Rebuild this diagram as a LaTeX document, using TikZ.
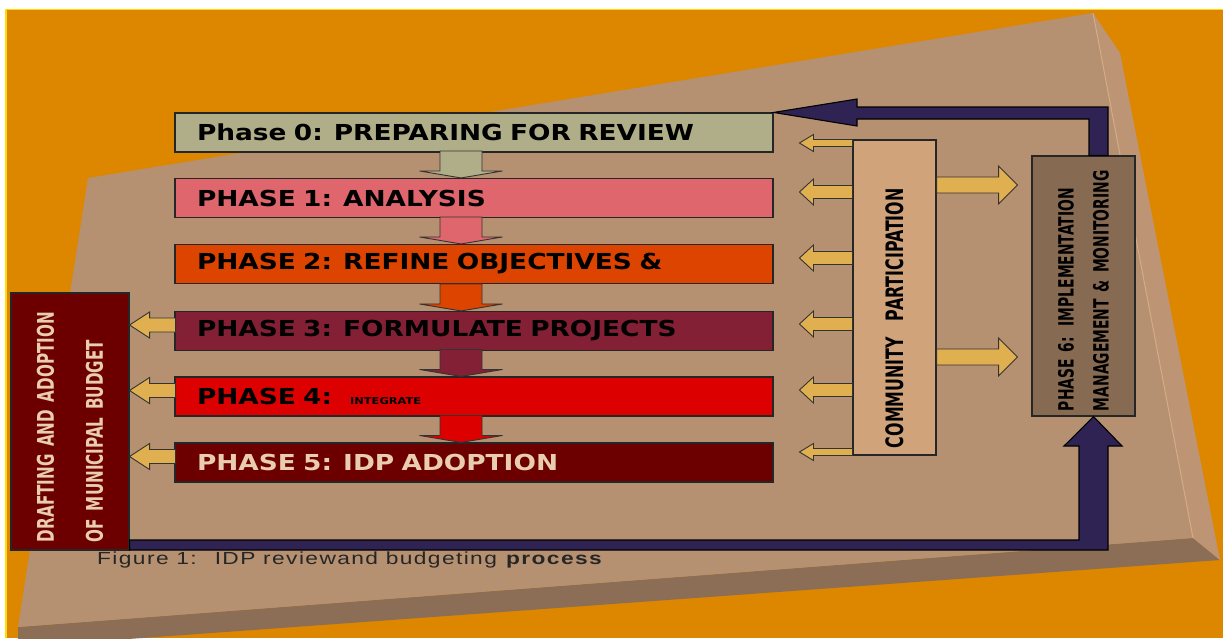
\documentclass[tikz,border=0pt]{standalone}
\usepackage{fontspec}
\usetikzlibrary{calc}

\newfontfamily\phasefont{DejaVu Sans}[FakeStretch=1.2]
\newfontfamily\sidefont{DejaVu Sans}[FakeStretch=0.66]
\newfontfamily\capfont{Liberation Sans}[FakeStretch=1.3,LetterSpace=8]

\definecolor{bgorange}{HTML}{DD8600}
\definecolor{slabtop}{HTML}{B69171}
\definecolor{slabside}{HTML}{BD9574}
\definecolor{slabbottom}{HTML}{8B6E55}
\definecolor{slabedge}{HTML}{D4AC88}
\definecolor{phzero}{HTML}{B0AE88}
\definecolor{phone}{HTML}{DF666C}
\definecolor{phtwo}{HTML}{DD4400}
\definecolor{phthree}{HTML}{842035}
\definecolor{phfour}{HTML}{DD0000}
\definecolor{phfive}{HTML}{6C0000}
\definecolor{commfill}{HTML}{D0A37A}
\definecolor{phsix}{HTML}{876A52}
\definecolor{loopnavy}{HTML}{2E2352}
\definecolor{arrowyellow}{HTML}{E0B050}
\definecolor{lighttext}{HTML}{E9CDAE}

\tikzstyle{phase} = [rectangle, draw=black!85, line width=1.1pt, text width=554pt, inner xsep=22pt, inner ysep=0pt, minimum height=39pt, align=left, font=\phasefont\bfseries\fontsize{22}{22}\selectfont]
\tikzstyle{sidebox} = [rectangle, draw=black!85, line width=1.1pt, rotate=90, align=left, inner ysep=0pt]
\tikzstyle{block} = [draw=black!80, line width=0.9pt, line join=miter]
\tikzstyle{loop} = [draw=black, line width=1.1pt, fill=loopnavy]

% fill, tip, direction, length, shaft half, head half, head length
\newcommand{\blockarrow}[7]{%
  \draw[block, fill=#1, shift={#2}, rotate=#3] (0,0) -- (-#7,#6) -- (-#7,#5) -- (-#4,#5) -- (-#4,-#5) -- (-#7,-#5) -- (-#7,-#6) -- cycle;}

\begin{document}
\begin{tikzpicture}[x=1pt, y=-1pt]
    \useasboundingbox (0,0) rectangle (1223,638);
    \clip (0,0) rectangle (1223,638);

    % backdrop and slab
    \fill[bgorange] (6,9) rectangle (1223,638);
    \draw[yellow!80!orange, line width=1.2pt] (6,638) -- (6,9.5) -- (1223,9.5);
    \fill[slabbottom] (18,627) -- (1193,538) -- (1220,560) -- (18,647) -- cycle;
    \fill[slabside] (1093,13) -- (1120,53) -- (1220,560) -- (1193,538) -- cycle;
    \fill[slabtop] (88,178) -- (1093,13) -- (1193,538) -- (18,627) -- cycle;
    \draw[slabedge, line width=1pt] (1093,13) -- (1193,538);

    % phases
    \node (p0) [phase, fill=phzero] at (474,132.5) {Phase 0: PREPARING FOR REVIEW};
    \node (p1) [phase, fill=phone] at (474,198) {PHASE 1: ANALYSIS};
    \node (p2) [phase, fill=phtwo] at (474,264) {PHASE 2: REFINE OBJECTIVES \&};
    \node (p3) [phase, fill=phthree] at (474,331) {PHASE 3: FORMULATE PROJECTS};
    \node (p4) [phase, fill=phfour] at (474,396.5) {\raisebox{-6pt}{PHASE 4:\hspace{18pt}{\fontsize{9.5}{9.5}\selectfont INTEGRATE}}};
    \node (p5) [phase, fill=phfive, text=lighttext] at (474,462.5) {PHASE 5: IDP ADOPTION};

    % side boxes
    \node (budget) [sidebox, fill=phfive, text=lighttext, minimum width=257pt, minimum height=118pt, inner xsep=8pt, text width=241pt, font=\sidefont\bfseries\fontsize{23}{49}\selectfont] at (70,421.5) {DRAFTING AND ADOPTION\\OF MUNICIPAL BUDGET};
    \node (comm) [sidebox, fill=commfill, minimum width=315pt, minimum height=83pt, inner xsep=7pt, text width=301pt, font=\sidefont\bfseries\fontsize{24}{24}\selectfont] at (894.5,297.5) {COMMUNITY~~PARTICIPATION};
    \node (p6) [sidebox, fill=phsix, minimum width=260pt, minimum height=103pt, inner xsep=5pt, text width=250pt, font=\sidefont\bfseries\fontsize{21}{35}\selectfont] at (1083.5,286) {PHASE 6: IMPLEMENTATION\\MANAGEMENT \& MONITORING};

    % phase to phase
    \foreach \a/\b/\c in {p0/p1/phzero, p1/p2/phone, p2/p3/phtwo, p3/p4/phthree, p4/p5/phfour}
        \blockarrow{\c}{($(\b.north)+(-13,0)$)}{-90}{27}{21}{41.5}{7};

    % into the budget
    \foreach \p in {p3,p4,p5}
        \blockarrow{arrowyellow}{($(budget.south |- \p.west)+(0,-6)$)}{180}{46}{7}{13}{20};

    % community participation
    \foreach \yy/\sh/\hh in {143/3.5/8.5, 192/6.5/13, 258/6.5/13, 324/6.5/13, 390/6.5/13, 452/3.5/8.5}
        \blockarrow{arrowyellow}{($(comm.north |- 0,\yy)+(-53,0)$)}{180}{53}{\sh}{\hh}{14};
    \foreach \yy in {185,357}
        \blockarrow{arrowyellow}{($(comm.south |- 0,\yy)+(81,0)$)}{0}{81}{8}{19}{19};

    % review loop
    \draw[loop] (p0.north east) -- (857,99) -- (857,107) -- (1108,107) -- (1108,0 |- p6.east) -- (1089,0 |- p6.east) -- (1089,119) -- (857,119) -- (857,126) -- cycle;
    \draw[loop] (budget.south |- 0,540) -- (1079,540) -- (1079,446) -- (1064,446) -- (1093.5,0 |- p6.west) -- (1122,446) -- (1108,446) -- (1108,550) -- (budget.south |- 0,550) -- cycle;

    \node (caption) [anchor=base west, inner sep=0pt, text=black!85, font=\capfont\fontsize{17.5}{17.5}\selectfont] at (97,564) {Figure 1:~ IDP reviewand budgeting \textbf{process}};

\end{tikzpicture}
\end{document}
